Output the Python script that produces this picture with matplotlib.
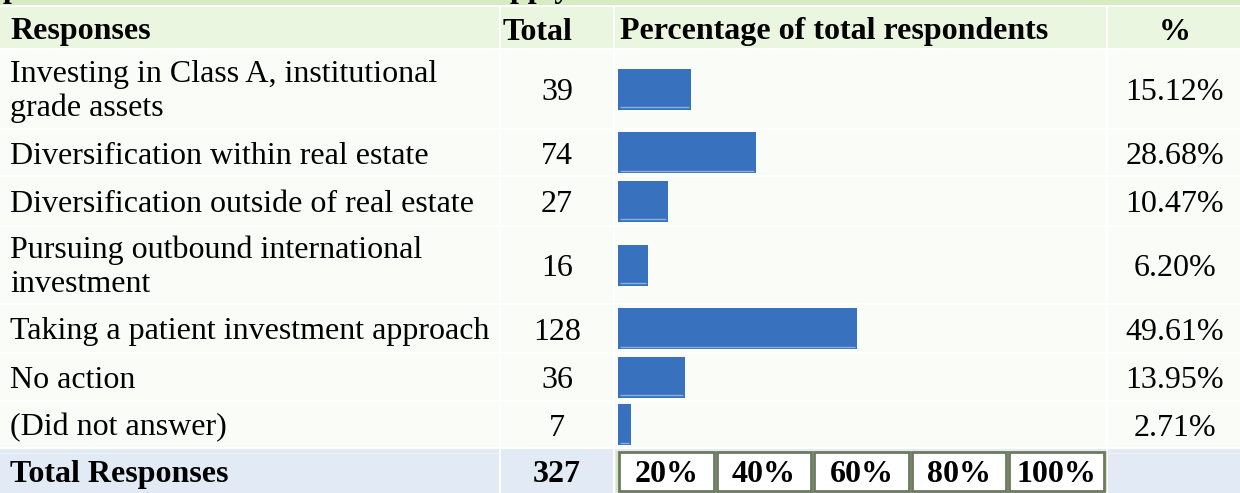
# Survey responses table with in-cell percentage bars

import matplotlib.pyplot as plt
from matplotlib.patches import Rectangle

# Data
responses = ["Investing in Class A, institutional\ngrade assets",
             "Diversification within real estate",
             "Diversification outside of real estate",
             "Pursuing outbound international\ninvestment",
             "Taking a patient investment approach",
             "No action",
             "(Did not answer)"]
totals = [39, 74, 27, 16, 128, 36, 7]
percents = [15.12, 28.68, 10.47, 6.20, 49.61, 13.95, 2.71]
total_label = "Total Responses"
total_responses = 327
scale_ticks = [20, 40, 60, 80, 100]
headers = ["Responses", "Total", "Percentage of total respondents", "%"]

# Layout (pixels)
W, H = 1240, 493
header_band = (7, 48)
row_bands = [(50, 128), (130, 175), (177, 225), (227, 303),
             (305, 352), (354, 400), (402, 447)]
total_band = (449, 493)
cols = [(0, 499), (501, 613), (615, 1106), (1108, 1240)]
bar_x0, bar_x1 = 618, 1099      # 0% .. 100%
bar_h = 41
box_step = 20.25                # width of one scale box, in percent units

c_strip = '#d7ecc3'
c_head = '#ebf6e0'
c_body = '#fafcf7'
c_total = '#e2eaf5'
c_bar = '#3871bd'
fs = 23
base = 11       # baseline offset below cell centre, px
line_gap = 34

plt.rcParams['font.family'] = ['Liberation Serif', 'DejaVu Serif']

fig = plt.figure(figsize=(W / 100, H / 100), dpi=100)
fig.patch.set_facecolor('white')
ax = fig.add_axes([0, 0, 1, 1])
ax.set_xlim(0, W)
ax.set_ylim(H, 0)
ax.axis('off')

# top strip with clipped title line
ax.add_patch(Rectangle((0, 0), W, 5, color=c_strip, lw=0))
ax.text(3, -3, "p", fontsize=fs, fontweight='bold', va='baseline', clip_on=True)
ax.text(494, -3, "apply", fontsize=fs, fontweight='bold', va='baseline', clip_on=True)


def band(y0, y1, color):
    for x0, x1 in cols:
        ax.add_patch(Rectangle((x0, y0), x1 - x0, y1 - y0, color=color, lw=0))


def cell_text(x, yc, s, **kw):
    lines = s.split('\n')
    n = len(lines)
    for i, ln in enumerate(lines):
        y = yc + base - 1 + (i - (n - 1) / 2) * line_gap if n > 1 else yc + base
        ax.text(x, y, ln, fontsize=fs, va='baseline', **kw)


band(*header_band, c_head)
for b in row_bands:
    band(*b, c_body)
band(*total_band, c_total)
ax.plot([0, 499], [453, 453], color='#edf2f9', lw=1)
ax.plot([1108, W], [453, 453], color='#edf2f9', lw=1)

# header
hy = sum(header_band) / 2 + 1
cell_text(10, hy, headers[0], fontweight='bold')
cell_text(503, hy, headers[1], fontweight='bold')
cell_text(620, hy, headers[2], fontweight='bold')
cell_text(1175, hy, headers[3], fontweight='bold', ha='center')

# rows
centers = [(a + b) / 2 for a, b in row_bands]
for yc, lab, tot, pct in zip(centers, responses, totals, percents):
    cell_text(10, yc, lab)
    cell_text(557, yc, str(tot), ha='center')
    cell_text(1175, yc, f"{pct:.2f}%", ha='center')

ty = sum(total_band) / 2
cell_text(10, ty, total_label, fontweight='bold')
cell_text(557, ty, str(total_responses), fontweight='bold', ha='center')

# bars in percent units
bar_ax = fig.add_axes([bar_x0 / W, 0, (bar_x1 - bar_x0) / W, 1])
bar_ax.set_xlim(0, 100)
bar_ax.set_ylim(H, 0)
bar_ax.axis('off')
bar_ax.patch.set_alpha(0)
bar_ax.barh(centers, percents, height=bar_h, color=c_bar, edgecolor='none')
px = 100 / (bar_x1 - bar_x0)
bar_ax.hlines([c + bar_h / 2 - 2.5 for c in centers], 2 * px,
              [p - 2 * px for p in percents], color='#8eaedb', lw=1)

# percentage scale boxes
by0, by1 = 452, 491
bar_ax.add_patch(Rectangle((-0.4, by0 - 1), 5 * box_step + 0.8, by1 - by0 + 2,
                           color='#d3e9bd', lw=0, clip_on=False))
for i, t in enumerate(scale_ticks):
    x0 = i * box_step
    bar_ax.add_patch(Rectangle((x0 + 0.3, by0), box_step - 0.6, by1 - by0,
                               facecolor='white', edgecolor='#6c7b60', lw=2,
                               clip_on=False))
    bar_ax.text(x0 + box_step / 2, (by0 + by1) / 2 + base, f"{t}%", fontsize=fs,
                fontweight='bold', ha='center', va='baseline')

fig.savefig('out.png', dpi=100)
